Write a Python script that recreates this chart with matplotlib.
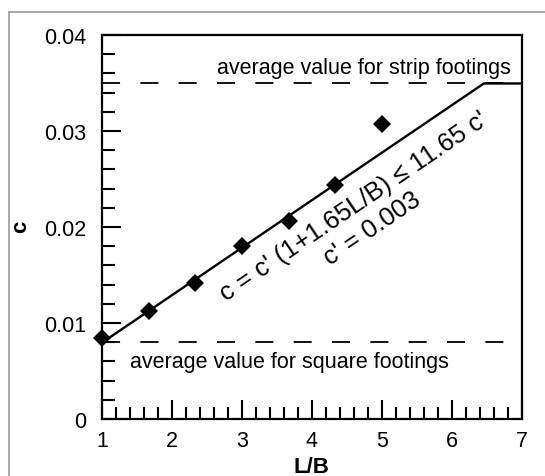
import numpy as np
import matplotlib
matplotlib.use("Agg")
import matplotlib.pyplot as plt
from matplotlib.ticker import MultipleLocator, FuncFormatter
from matplotlib.lines import Line2D

plt.rcParams['font.family'] = ['Liberation Sans', 'DejaVu Sans']
plt.rcParams['lines.scale_dashes'] = False

# Measured shape factor c against aspect ratio L/B
lb_obs = [1.0, 1.67, 2.33, 3.0, 3.67, 4.33, 5.0]
c_obs = [0.0084, 0.0112, 0.0142, 0.0180, 0.0206, 0.0244, 0.0307]

# Design relation c = c' (1 + 1.65 L/B) <= 11.65 c'
c_prime = 0.003
slope_factor = 1.65
cap_factor = 11.65

# Reference averages
c_strip = 0.035
c_square = 0.008

x_ticks = [1, 2, 3, 4, 5, 6, 7]
y_ticks = [0, 0.01, 0.02, 0.03, 0.04]

lb_line = np.array([x_ticks[0], (cap_factor - 1) / slope_factor, x_ticks[-1]])
c_line = np.minimum(c_prime * (1 + slope_factor * lb_line), cap_factor * c_prime)

W, H = 545, 477
fig = plt.figure(figsize=(W / 100, H / 100), dpi=100)
ax = fig.add_axes([102 / W, 1 - 420 / H, 420 / W, 384 / H])

ax.set_xlim(x_ticks[0], x_ticks[-1])
ax.set_ylim(y_ticks[0], y_ticks[-1])

dash = (0, (13, 14.6))
ax.axhline(c_strip, color='black', lw=1.3, linestyle=dash, zorder=2)
ax.axhline(c_square, color='black', lw=1.3, linestyle=dash, zorder=2)

ax.plot(lb_line, c_line, color='black', lw=1.7, zorder=3)
ax.plot(lb_obs, c_obs, linestyle='none', marker='D', markersize=9.2,
        color='black', markeredgewidth=0, zorder=4, clip_on=False)

ax.set_xticks(x_ticks)
ax.set_yticks(y_ticks)
ax.xaxis.set_minor_locator(MultipleLocator(0.2))
ax.yaxis.set_minor_locator(MultipleLocator(0.002))
ax.yaxis.set_major_formatter(FuncFormatter(lambda v, p: '%g' % round(v, 4)))
ax.xaxis.set_major_formatter(FuncFormatter(lambda v, p: '%g' % v))

ax.tick_params(which='both', direction='in', top=False, right=False,
               width=1.5, labelsize=15.5, colors='black')
ax.tick_params(which='major', length=13.7)
ax.tick_params(which='minor', length=9.0)
ax.tick_params(axis='y', which='major', pad=11)
ax.tick_params(axis='x', which='major', pad=8)
for s in ax.spines.values():
    s.set_linewidth(1.6)

ax.set_xlabel('L/B', fontsize=16, fontweight='bold')
ax.set_ylabel('c', fontsize=16, fontweight='bold')
ax.xaxis.set_label_coords(0.4976, -0.0964)
ax.yaxis.set_label_coords(-0.168, 0.503)

ax.text(6.843, 0.03604, 'average value for strip footings', fontsize=15.5,
        ha='right', va='baseline')
ax.text(1.4, 0.00539, 'average value for square footings', fontsize=15.5,
        ha='left', va='baseline')

# rotate the formula to follow the sloped part of the design line
p0 = ax.transData.transform((lb_line[0], c_line[0]))
p1 = ax.transData.transform((lb_line[1], c_line[1]))
angle = np.degrees(np.arctan2(p1[1] - p0[1], p1[0] - p0[0]))

ax.text(4.6, 0.0222, "c = c' (1+1.65L/B) \u2264 11.65 c'", fontsize=18.5,
        rotation=angle, rotation_mode='anchor', ha='center', va='center')
ax.text(4.864, 0.0199, "c' = 0.003", fontsize=18.5,
        rotation=angle, rotation_mode='anchor', ha='center', va='center')

# light frame around the panel
fx = 8.5 / W
fy = 1 - 12.5 / H
fig.add_artist(Line2D([fx, fx], [0, fy], transform=fig.transFigure,
                      color='#9a9a9a', lw=1.2))
fig.add_artist(Line2D([fx, 1], [fy, fy], transform=fig.transFigure,
                      color='#9a9a9a', lw=1.2))

fig.savefig('out.png', dpi=100)
